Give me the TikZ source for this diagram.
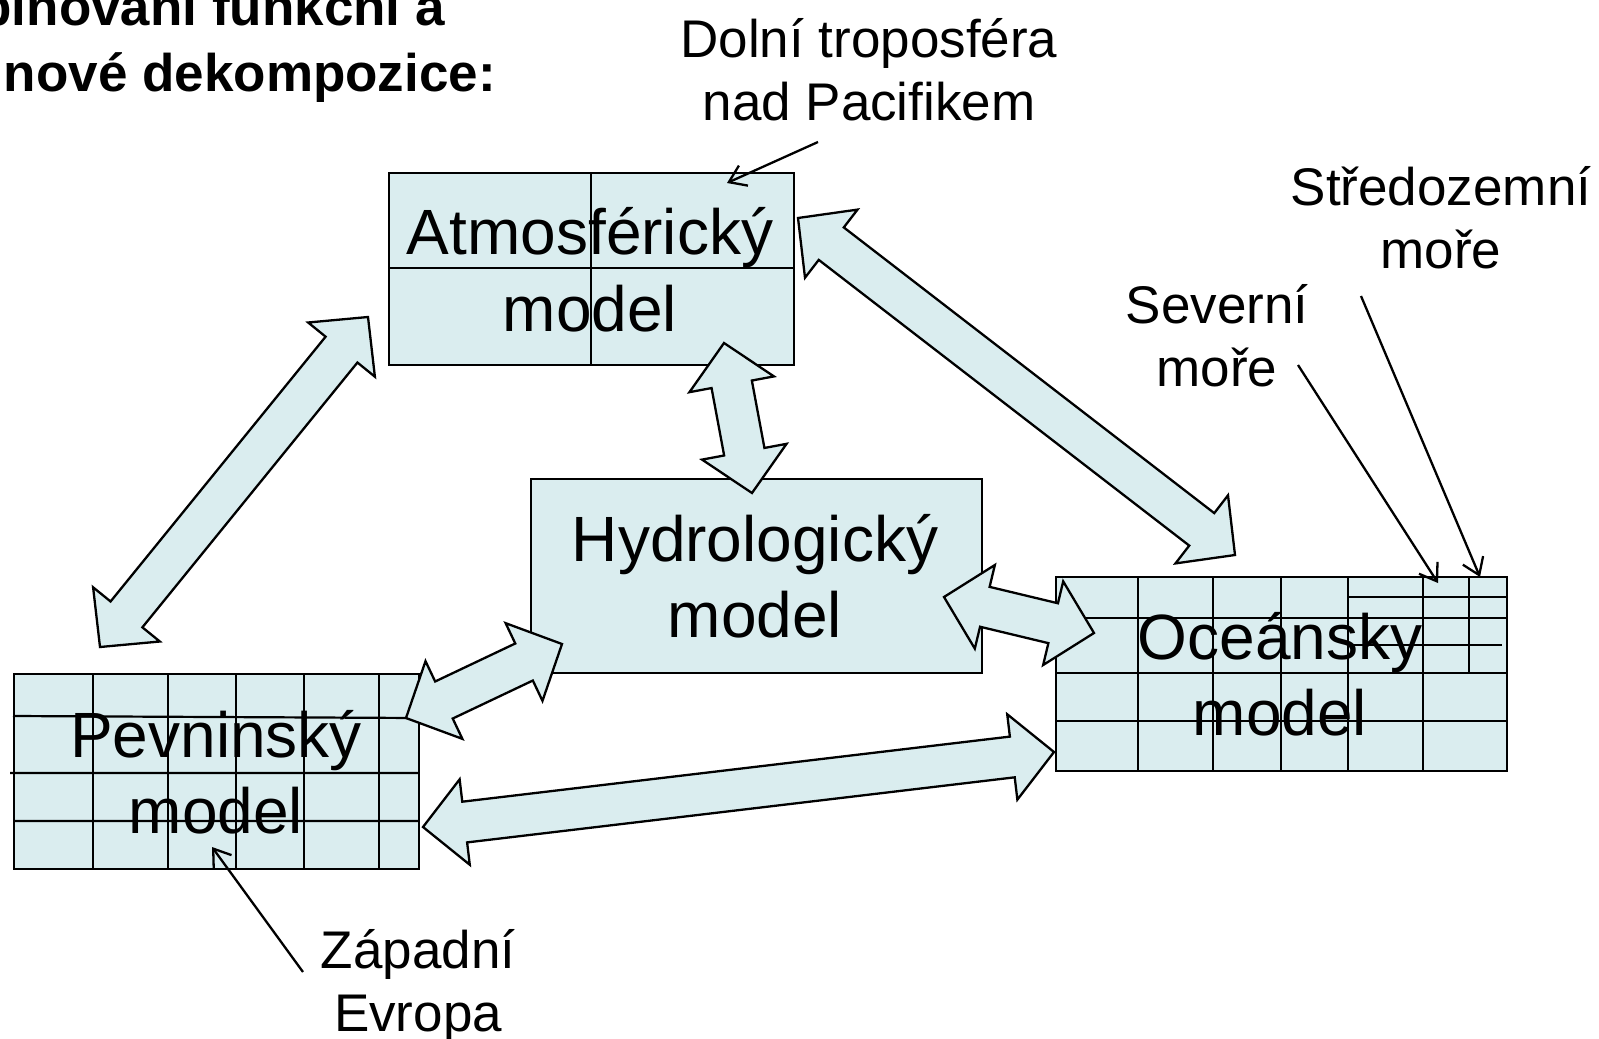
\documentclass[tikz,border=0pt]{standalone}
\usepackage{fontspec}
\setmainfont{Liberation Sans}
\usetikzlibrary{calc,arrows.meta}
\definecolor{boxfill}{RGB}{218,237,239}
\def\arrHL{42pt}
\def\arrHW{43pt}
\def\arrSW{20.5pt}
\newcommand{\fatarrow}[3]{%
  \coordinate (#3-h1) at ($(#1)!\arrHL!(#2)$);
  \coordinate (#3-h2) at ($(#2)!\arrHL!(#1)$);
  \filldraw[fat] (#1) -- ($(#3-h1)!\arrHW!90:(#2)$) -- ($(#3-h1)!\arrSW!90:(#2)$)
    -- ($(#3-h2)!\arrSW!-90:(#1)$) -- ($(#3-h2)!\arrHW!-90:(#1)$) -- (#2)
    -- ($(#3-h2)!\arrHW!90:(#1)$) -- ($(#3-h2)!\arrSW!90:(#1)$)
    -- ($(#3-h1)!\arrSW!-90:(#2)$) -- ($(#3-h1)!\arrHW!-90:(#2)$) -- cycle;}
\begin{document}
\begin{tikzpicture}[x=1pt,y=-1pt,
  modelbox/.style={draw=black, fill=boxfill, line width=2.3pt, rectangle, inner sep=0pt, anchor=north west},
  gridline/.style={draw=black, line width=2.2pt},
  fat/.style={draw=black, fill=boxfill, line width=2.3pt, line join=miter},
  big/.style={font=\fontsize{64}{77}\selectfont, inner sep=0pt, anchor=base},
  lab/.style={font=\fontsize{53}{63}\selectfont, inner sep=0pt, anchor=base},
  ttl/.style={font=\bfseries\fontsize{53}{63}\selectfont, inner sep=0pt, anchor=base east},
  callout/.style={draw=black, line width=2.3pt, -{Straight Barb[length=16pt,width=22pt,line width=2.3pt]}}]
\useasboundingbox (0,0) rectangle (1599,1039);
\fill[white] (0,0) rectangle (1599,1039);

% boxes
\node[modelbox, minimum width=405pt, minimum height=192pt] (atm) at (388,172) {};
\node[modelbox, minimum width=451pt, minimum height=194pt] (hyd) at (530,478) {};
\node[modelbox, minimum width=405pt, minimum height=195pt] (land) at (13,673) {};
\node[modelbox, minimum width=451pt, minimum height=194pt] (ocean) at (1055,576) {};

% grids
\draw[gridline] (591,172) -- (591,364) (388,268) -- (793,268);
\foreach \x in {93,168,236,304,379} \draw[gridline] (\x,673) -- (\x,868);
\draw[gridline] (13,716) -- (418,718) (10,773) -- (418,773) (13,821) -- (418,821);
\foreach \x in {1138,1213,1281,1348,1423} \draw[gridline] (\x,576) -- (\x,770);
\draw[gridline] (1469,576) -- (1469,672);
\draw[gridline] (1348,597) -- (1506,597) (1055,618) -- (1508,618) (1348,645) -- (1502,645)
  (1055,673) -- (1506,673) (1057,721) -- (1508,721);

% fat double arrows
\coordinate (a1) at (368,317); \coordinate (a2) at (100,647);
\fatarrow{a1}{a2}{atmland}
\coordinate (b1) at (724,343); \coordinate (b2) at (752,493);
\fatarrow{b1}{b2}{atmhyd}
\coordinate (c1) at (798,218); \coordinate (c2) at (1235,555);
\fatarrow{c1}{c2}{atmocean}
\coordinate (d1) at (406,718); \coordinate (d2) at (562,644);
\fatarrow{d1}{d2}{landhyd}
\coordinate (e1) at (944,597); \coordinate (e2) at (1094,633);
\fatarrow{e1}{e2}{hydocean}
\coordinate (f1) at (423,827); \coordinate (f2) at (1054,752);
\fatarrow{f1}{f2}{landocean}

% box texts
\node[big] (atmt1) at (590,254) {Atmosférický};
\node[big] (atmt2) at (590,331) {model};
\node[big] (hydt1) at (755,561) {Hydrologický};
\node[big] (hydt2) at (755,637) {model};
\node[big] (landt1) at (216,757) {Pevninský};
\node[big] (landt2) at (216,833) {model};
\node[big] (oct1) at (1280,659) {Oceánsky};
\node[big] (oct2) at (1280,735) {model};

% title
\node[ttl] (t1) at (445,25) {binování funkční a};
\node[ttl] (t2) at (496,91) {nové dekompozice:};

% labels
\node[lab] (l1) at (869,57) {Dolní troposféra};
\node[lab] (l2) at (869,120) {nad Pacifikem};
\node[lab] (s1) at (1441,205) {Středozemní};
\node[lab] (s2) at (1441,268) {moře};
\node[lab] (n1) at (1217,323) {Severní};
\node[lab] (n2) at (1217,386) {moře};
\node[lab] (z1) at (418,968) {Západní};
\node[lab] (z2) at (418,1031) {Evropa};

% callouts
\coordinate (cd) at (818,142); \coordinate (cdt) at (727,183);
\draw[callout] (cd) -- (cdt);
\coordinate (cn) at (1298,365); \coordinate (cnt) at (1438,583);
\draw[callout] (cn) -- (cnt);
\coordinate (cs) at (1361,296); \coordinate (cst) at (1480,577);
\draw[callout] (cs) -- (cst);
\coordinate (cz) at (303,972); \coordinate (czt) at (212,847);
\draw[callout] (cz) -- (czt);
\end{tikzpicture}
\end{document}
